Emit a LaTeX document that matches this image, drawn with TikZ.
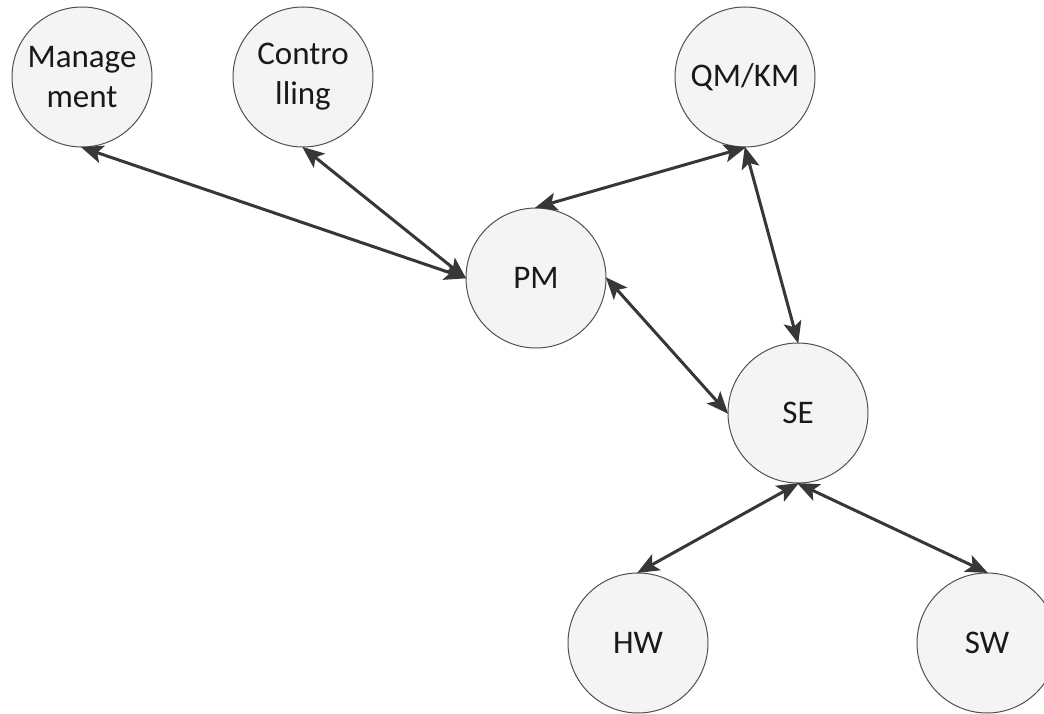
\documentclass[tikz,border=0pt]{standalone}
\usepackage{fontspec}
\setmainfont{Carlito}
\usetikzlibrary{arrows.meta}
\definecolor{nodefill}{RGB}{244,244,244}
\definecolor{nodeline}{RGB}{80,80,80}
\definecolor{linkcol}{RGB}{55,55,55}
\begin{document}
\begin{tikzpicture}[x=1pt,y=-1pt,
  unit/.style={circle, draw=nodeline, line width=1pt, fill=nodefill,
    minimum size=140pt, inner sep=0pt, align=center,
    font=\fontsize{33}{40}\selectfont, text=black!90},
  link/.style={linkcol, line width=3pt,
    {Stealth[length=22pt,width=18pt,inset=5pt]}-{Stealth[length=22pt,width=18pt,inset=5pt]},
    shorten <=-1pt, shorten >=-1pt}]
  \useasboundingbox (0,0) rectangle (1044,714);
  \clip (0,0) rectangle (1044,714);

  % departments
  \node[unit] (mgmt) at (82,77)   {Manage\\ment};
  \node[unit] (ctrl) at (303,77)  {Contro\\lling};
  \node[unit] (qm)   at (745,77)  {QM/KM};
  \node[unit] (pm)   at (536,278) {PM};
  \node[unit] (se)   at (798,413) {SE};
  \node[unit] (hw)   at (638,643) {HW};
  \node[unit] (sw)   at (987,643) {SW};

  % relations
  \draw[link] (mgmt.south) -- (pm.west);
  \draw[link] (ctrl.south) -- (pm.west);
  \draw[link] (pm.north)   -- (qm.south);
  \draw[link] (qm.south)   -- (se.north);
  \draw[link] (pm.east)    -- (se.west);
  \draw[link] (se.south)   -- (hw.north);
  \draw[link] (se.south)   -- (sw.north);
\end{tikzpicture}
\end{document}
